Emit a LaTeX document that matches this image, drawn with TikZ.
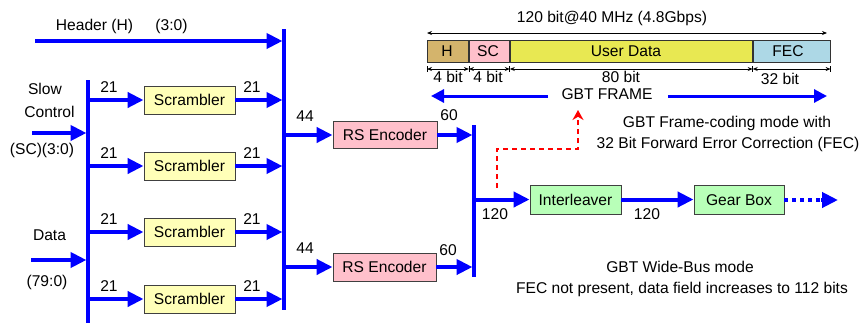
\documentclass[tikz,border=0pt]{standalone}
\usepackage{fontspec}
\setmainfont{Liberation Sans}
\usetikzlibrary{arrows.meta}
\definecolor{scrfill}{HTML}{FFFFB8}
\definecolor{rsfill}{HTML}{FFC0CB}
\definecolor{grfill}{HTML}{B8FFB8}
\definecolor{hfill}{HTML}{D4B46C}
\definecolor{scfill}{HTML}{FFC0CB}
\definecolor{udfill}{HTML}{E8E852}
\definecolor{fecfill}{HTML}{ADD8E6}
\begin{document}
\begin{tikzpicture}[x=1pt,y=-1pt,
  every node/.style={font=\fontsize{15.6}{18}\selectfont, inner sep=0pt},
  blk/.style={draw=black!75, line width=0.9pt, minimum height=28pt, inner sep=0pt},
  bus/.style={line width=4.5pt, blue},
  barrow/.style={line width=4pt, blue, -{Triangle[length=16pt,width=15pt]}},
  thinarrow/.style={line width=0.8pt, black, {Stealth[length=5pt,width=4pt]}-{Stealth[length=5pt,width=4pt]}},
  fbox/.style={draw=black!80, line width=0.9pt, minimum height=22pt, inner sep=0pt, anchor=west},
  redarrow/.style={red, line width=2pt, dash pattern=on 5pt off 4pt, -{Stealth[length=10pt,width=11pt]}}
]
\useasboundingbox (0,0) rectangle (860,325);

% ---- buses
\coordinate (b1t) at (88,80);  \coordinate (b1b) at (88,323);
\coordinate (b2t) at (284,29); \coordinate (b2b) at (284,310);
\coordinate (b3t) at (474,125); \coordinate (b3b) at (474,277);
\draw[bus] (b1t) -- (b1b);
\draw[bus] (b2t) -- (b2b);
\draw[bus] (b3t) -- (b3b);

% ---- inputs
\coordinate (hin) at (35,41);
\coordinate (scin) at (32,133);
\coordinate (din) at (31,260);
\draw[barrow, shorten >=1.5pt] (hin) -- (hin -| b2t);
\draw[barrow, shorten >=1.5pt] (scin) -- (scin -| b1t);
\draw[barrow, shorten >=1.5pt] (din) -- (din -| b1t);

\node (thdr) at (94.5,26) {Header (H)};
\node (thdrb) at (171.5,26) {(3:0)};
\node (tslow) at (45,89) {Slow};
\node (tctrl) at (49.5,112) {Control};
\node (tscb) at (42,150) {(SC)(3:0)};
\node (tdata) at (49.5,235) {Data};
\node (tdatab) at (47,282) {(79:0)};

% ---- scramblers
\node[blk, fill=scrfill, minimum width=91pt] (s1) at (189.5,100) {Scrambler};
\node[blk, fill=scrfill, minimum width=91pt] (s2) at (189.5,166) {Scrambler};
\node[blk, fill=scrfill, minimum width=91pt] (s3) at (189.5,232) {Scrambler};
\node[blk, fill=scrfill, minimum width=91pt] (s4) at (189.5,299) {Scrambler};
\foreach \s/\ly in {s1/87,s2/153,s3/219,s4/286}{
  \draw[barrow] (b1t |- \s.west) -- (\s.west);
  \draw[barrow, shorten >=1.5pt] (\s.east) -- (b2t |- \s.east);
  \node at (109,\ly) {21};
  \node at (252,\ly) {21};
}

% ---- RS encoders
\node[blk, fill=rsfill, minimum width=104pt, minimum height=27pt] (rs1) at (385,135) {RS Encoder};
\node[blk, fill=rsfill, minimum width=103pt, minimum height=28pt] (rs2) at (384.5,267) {RS Encoder};
\draw[barrow] (b2t |- rs1.west) -- (rs1.west);
\draw[barrow] (b2t |- rs2.west) -- (rs2.west);
\draw[barrow, shorten >=1.5pt] (rs1.east) -- (b3t |- rs1.east);
\draw[barrow, shorten >=1.5pt] (rs2.east) -- (b3t |- rs2.east);
\node at (305,116) {44};
\node at (305,248) {44};
\node at (449,115) {60};
\node at (448,250) {60};

% ---- interleaver, gear box
\node[blk, fill=grfill, minimum width=91pt, minimum height=29pt] (il) at (575.5,199.5) {Interleaver};
\node[blk, fill=grfill, minimum width=90pt, minimum height=29pt] (gb) at (739,200) {Gear Box};
\draw[barrow] (b3t |- il.west) -- (il.west);
\draw[barrow] (il.east) -- (gb.west |- il.east);
\coordinate (gbout) at (838,200);
\draw[line width=4pt, blue, dash pattern=on 4pt off 4pt] (gb.east) -- ([xshift=-15pt]gbout);
\draw[line width=4pt, blue, -{Triangle[length=16pt,width=15pt]}] ([xshift=-17pt]gbout) -- (gbout);
\node at (495,214) {120};
\node at (647,214) {120};

% ---- red dashed feedback to frame
\coordinate (r0) at (497,188);
\coordinate (r1) at (497,149);
\coordinate (r2) at (578,149);
\coordinate (r3) at (578,110);
\draw[redarrow] (r0) -- (r1) -- (r2) -- (r3);

% ---- frame
\node[fbox, fill=hfill, minimum width=41pt] (fh) at (427,51) {};
\node[fbox, fill=scfill, minimum width=40pt] (fsc) at (fh.east) {};
\node[fbox, fill=udfill, minimum width=242pt] (fud) at (fsc.east) {};
\node[fbox, fill=fecfill, minimum width=77pt] (ffec) at (fud.east) {};
\node at (447,51) {H};
\node at (488,51) {SC};
\node at (626,51) {User Data};
\node at (788,51) {FEC};

\coordinate (ftl) at (427,33);
\coordinate (ftr) at (827,33);
\draw[thinarrow] (ftl) -- (ftr);
\node (ttitle) at (612,18.5) {120 bit@40 MHz (4.8Gbps)};

\foreach \a in {fh,fsc,fud}{
  \draw[line width=0.8pt] (\a.east |- 0,66) -- (\a.east |- 0,72);
}
\draw[line width=0.8pt] (fh.west |- 0,66) -- (fh.west |- 0,72);
\draw[line width=0.8pt] (ffec.east |- 0,66) -- (ffec.east |- 0,72);
\draw[thinarrow] (fh.west |- 0,69) -- (fh.east |- 0,69);
\draw[thinarrow] (fsc.west |- 0,69) -- (fsc.east |- 0,69);
\draw[thinarrow] (fud.west |- 0,69) -- (fud.east |- 0,69);
\draw[thinarrow] (ffec.west |- 0,69) -- (ffec.east |- 0,69);
\node at (448,76.5) {4 bit};
\node at (488,76.5) {4 bit};
\node at (621,77) {80 bit};
\node at (780,78.5) {32 bit};

\node (tgbt) at (607,94) {GBT FRAME};
\coordinate (gl) at (431,96);
\coordinate (gls) at (548,96);
\coordinate (gr) at (827,96);
\coordinate (grs) at (668,96);
\draw[line width=3pt, blue, -{Triangle[length=13pt,width=13pt]}] (gls) -- (gl);
\draw[line width=3pt, blue, -{Triangle[length=13pt,width=13pt]}] (grs) -- (gr);

% ---- mode texts
\node at (727,123) {GBT Frame-coding mode with};
\node at (728,144) {32 Bit Forward Error Correction (FEC)};
\node at (680,267) {GBT Wide-Bus mode};
\node at (682,289) {FEC not present, data field increases to 112 bits};
\end{tikzpicture}
\end{document}
